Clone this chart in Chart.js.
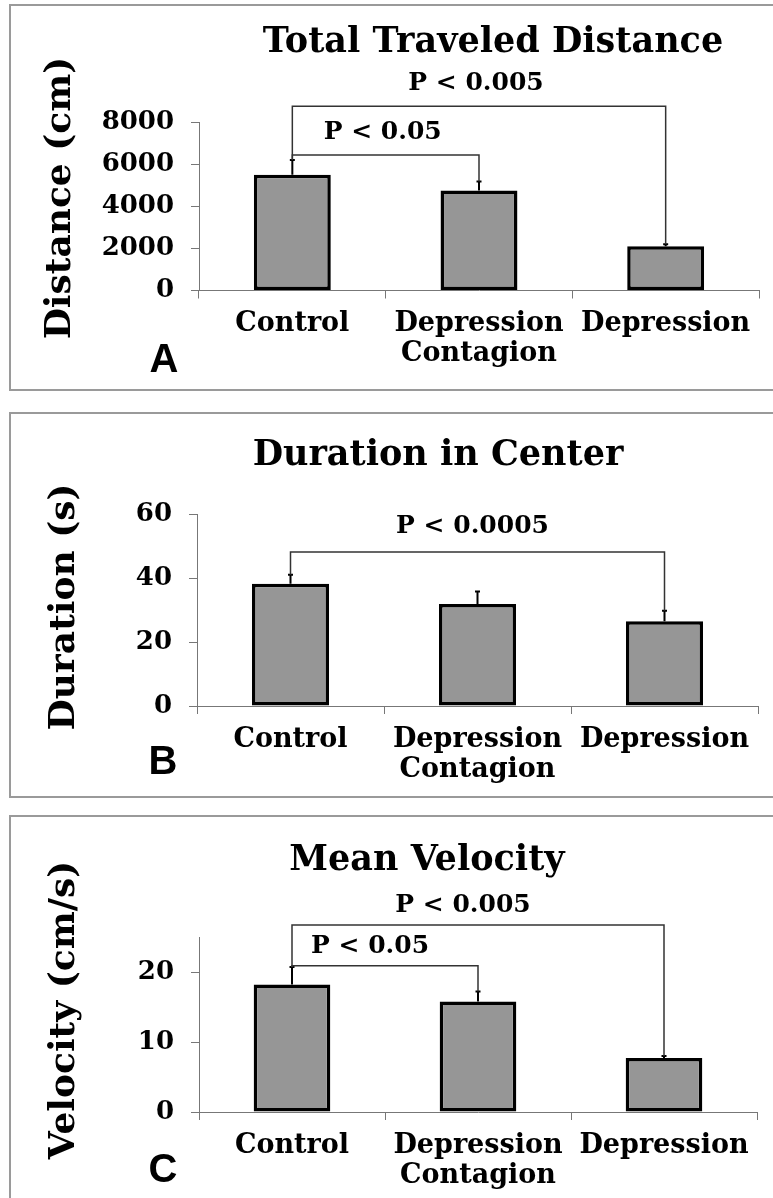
<!DOCTYPE html>
<html>
<head>
<meta charset="utf-8">
<script src="https://cdn.jsdelivr.net/npm/chart.js@4.4.1/dist/chart.umd.min.js"></script>
<style>
  html, body { margin: 0; padding: 0; background: #fff; width: 773px; height: 1198px; overflow: hidden; }
  .panel { position: absolute; left: 9px; width: 800px; border: 2px solid #9a9a9a; box-sizing: border-box; }
  canvas { position: absolute; left: 0; }
</style>
</head>
<body>
<div class="panel" style="top:4px;height:387px"></div>
<div class="panel" style="top:412px;height:386px"></div>
<div class="panel" style="top:815px;height:400px"></div>
<canvas id="distanceChart" width="773" height="387" style="top:4px"></canvas>
<canvas id="durationChart" width="773" height="386" style="top:412px"></canvas>
<canvas id="velocityChart" width="773" height="383" style="top:815px"></canvas>
<script>
// groups on the x axis
const categories = ['Control', ['Depression', 'Contagion'], 'Depression'];

// A - total traveled distance (cm)
const distanceMeans = [5500, 4750, 2100];
const distanceErrors = [700, 420, 100];
const distanceTicks = [0, 2000, 4000, 6000, 8000];
const distanceBrackets = [
  { from: 0, to: 1, level: 6430, label: 'P < 0.05' },
  { from: 0, to: 2, level: 8750, label: 'P < 0.005' }
];

// B - duration in center (s)
const durationMeans = [38.2, 31.9, 26.5];
const durationErrors = [2.8, 3.9, 3.3];
const durationTicks = [0, 20, 40, 60];
const durationBrackets = [
  { from: 0, to: 2, level: 48.1, label: 'P < 0.0005' }
];

// C - mean velocity (cm/s)
const velocityMeans = [18.2, 15.8, 7.7];
const velocityErrors = [2.5, 1.4, 0.3];
const velocityTicks = [0, 10, 20];
const velocityBrackets = [
  { from: 0, to: 1, level: 20.9, label: 'P < 0.05' },
  { from: 0, to: 2, level: 26.7, label: 'P < 0.005' }
];

const SERIF = '"DejaVu Serif", Georgia, serif';

// draws error bars, significance brackets and the panel texts
const panelExtras = {
  id: 'panelExtras',
  afterDatasetsDraw(chart, args, opts) {
    const ctx = chart.ctx;
    const y = chart.scales.y;
    const bars = chart.getDatasetMeta(0).data;
    const tops = opts.means.map((m, i) => m + opts.errors[i]);

    ctx.save();
    // error bars (upper half only)
    ctx.strokeStyle = '#000';
    ctx.lineWidth = 2;
    bars.forEach((bar, i) => {
      const yTop = y.getPixelForValue(tops[i]);
      ctx.beginPath();
      ctx.moveTo(bar.x, y.getPixelForValue(opts.means[i]));
      ctx.lineTo(bar.x, yTop);
      ctx.moveTo(bar.x - 2.5, yTop);
      ctx.lineTo(bar.x + 2.5, yTop);
      ctx.stroke();
    });

    // brackets
    opts.brackets.forEach(b => {
      const x1 = bars[b.from].x, x2 = bars[b.to].x;
      const yl = y.getPixelForValue(b.level);
      ctx.strokeStyle = '#333';
      ctx.lineWidth = 1.5;
      ctx.beginPath();
      ctx.moveTo(x1, y.getPixelForValue(tops[b.from]));
      ctx.lineTo(x1, yl);
      ctx.lineTo(x2, yl);
      ctx.lineTo(x2, y.getPixelForValue(tops[b.to]));
      ctx.stroke();
      ctx.fillStyle = '#000';
      ctx.font = 'bold 25px ' + SERIF;
      ctx.textAlign = 'center';
      ctx.textBaseline = 'alphabetic';
      ctx.fillText(b.label, (x1 + x2) / 2 + (opts.labelShift || 0), yl - opts.labelGap);
    });

    // title
    ctx.fillStyle = '#000';
    ctx.font = 'bold 35px ' + SERIF;
    ctx.textAlign = 'center';
    ctx.fillText(opts.title, opts.titleX, opts.titleY);

    // y axis title
    ctx.save();
    ctx.translate(opts.yTitleX, opts.yTitleY);
    ctx.rotate(-Math.PI / 2);
    ctx.font = 'bold 36px ' + SERIF;
    ctx.fillText(opts.yTitle, 0, 0);
    ctx.restore();

    // panel letter
    ctx.font = 'bold 40px "Liberation Sans Narrow", "Liberation Sans", Arial, sans-serif';
    ctx.fillText(opts.letter, opts.letterX, opts.letterY);
    ctx.restore();
  }
};

function makePanel(id, means, errors, ticks, brackets, box, text) {
  const canvas = document.getElementById(id);
  const step = ticks[1] - ticks[0];
  new Chart(canvas, {
    type: 'bar',
    data: {
      labels: categories,
      datasets: [{
        data: means,
        backgroundColor: '#969696',
        borderColor: '#000',
        borderWidth: 3.5,
        borderSkipped: false,
        barPercentage: 0.412,
        categoryPercentage: 1
      }]
    },
    options: {
      responsive: false,
      animation: false,
      layout: {
        padding: { top: box.top, left: 0, right: canvas.width - box.right, bottom: canvas.height - box.bottom - 85 }
      },
      plugins: {
        legend: { display: false },
        tooltip: { enabled: false },
        title: { display: false },
        panelExtras: Object.assign({ means: means, errors: errors, brackets: brackets }, text)
      },
      scales: {
        x: {
          grid: { drawOnChartArea: false, tickLength: 8, color: '#777', offset: true },
          border: { color: '#777', width: 1 },
          ticks: {
            color: '#000', padding: 11, maxRotation: 0, autoSkip: false,
            font: { family: SERIF, weight: 'bold', size: 27, lineHeight: 1.1 }
          },
          afterFit: s => { s.height = 85; }
        },
        y: {
          min: ticks[0],
          max: box.max,
          ticks: {
            stepSize: step, color: '#000', padding: 17,
            font: { family: SERIF, weight: 'bold', size: 26 },
            callback: v => String(v)
          },
          afterBuildTicks: s => { s.ticks = s.ticks.filter(t => ticks.includes(t.value)); },
          grid: { drawOnChartArea: false, tickLength: 8, color: '#777' },
          border: { color: '#777', width: 1 },
          afterFit: s => { s.width = box.left; }
        }
      }
    },
    plugins: [panelExtras]
  });
}

makePanel('distanceChart', distanceMeans, distanceErrors, distanceTicks, distanceBrackets,
  { top: 118, bottom: 286.5, left: 199, right: 759, max: 8000 },
  { title: 'Total Traveled Distance', titleX: 493, titleY: 48, yTitle: 'Distance (cm)',
    yTitleX: 70, yTitleY: 194, letter: 'A', letterX: 164, letterY: 368, labelGap: 16, labelShift: -3 });

makePanel('durationChart', durationMeans, durationErrors, durationTicks, durationBrackets,
  { top: 102, bottom: 294, left: 197, right: 758, max: 60 },
  { title: 'Duration in Center', titleX: 438, titleY: 53, yTitle: 'Duration (s)',
    yTitleX: 74, yTitleY: 195, letter: 'B', letterX: 163, letterY: 362, labelGap: 19, labelShift: -5 });

makePanel('velocityChart', velocityMeans, velocityErrors, velocityTicks, velocityBrackets,
  { top: 122, bottom: 297, left: 199, right: 757, max: 25 },
  { title: 'Mean Velocity', titleX: 427, titleY: 55, yTitle: 'Velocity (cm/s)',
    yTitleX: 74, yTitleY: 195, letter: 'C', letterX: 163, letterY: 367, labelGap: 13, labelShift: -15 });
</script>
</body>
</html>
